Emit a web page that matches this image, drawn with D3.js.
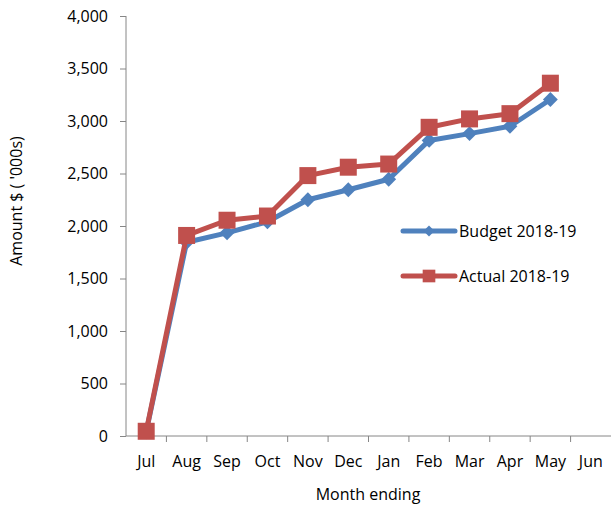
<!DOCTYPE html>
<html><head><meta charset="utf-8">
<script src="https://cdn.jsdelivr.net/npm/d3@7"></script>
<style>body{margin:0;background:#fff}svg{display:block}text{font-family:"Open Sans","Noto Sans",sans-serif;fill:#000}</style>
</head><body>
<svg id="c" width="611" height="508"></svg>
<script>
const months = ["Jul","Aug","Sep","Oct","Nov","Dec","Jan","Feb","Mar","Apr","May","Jun"];
const budget = [40,1845,1935,2040,2250,2345,2445,2815,2880,2950,3205];
const actual = [45,1910,2055,2095,2480,2560,2590,2940,3020,3070,3360];
const yTicks = [0,500,1000,1500,2000,2500,3000,3500,4000];
const seriesNames = ["Budget 2018-19","Actual 2018-19"];
const colors = ["#4f81bd","#c0504d"];

const svg = d3.select("#c");
const x = d3.scaleBand().domain(months).range([126,611]);
const y = d3.scaleLinear().domain([0,4000]).range([436,16]);
const fmt = d3.format(",");
const FS = "16px";

// y axis
const ya = svg.append("g").attr("transform","translate(126,0)")
  .call(d3.axisLeft(y).tickValues(yTicks).tickFormat(fmt).tickSize(6).tickPadding(12));
ya.selectAll("text").style("font-size",FS);
ya.selectAll("line,path").attr("stroke","#868686");
ya.select("path").attr("d","M0,16V436");

// x axis
const xa = svg.append("g").attr("transform","translate(0,436)")
  .call(d3.axisBottom(x).tickSize(0).tickPadding(20));
xa.select("path").attr("stroke","#868686").attr("d","M126,0H611");
xa.selectAll("text").style("font-size",FS).attr("dy","0.71em");
const bounds = months.map((m,i)=>x(m)).concat([611]);
xa.selectAll(".bt").data(bounds.slice(1,12)).enter().append("line")
  .attr("x1",d=>d).attr("x2",d=>d).attr("y1",0).attr("y2",6).attr("stroke","#868686");

// labels
svg.append("text").attr("x",368).attr("y",500).attr("text-anchor","middle").style("font-size",FS).text("Month ending");
svg.append("text").attr("transform","translate(22,201) rotate(-90)").attr("text-anchor","middle").style("font-size",FS).text("Amount $ ( '000s)");

const cx = m => x(m)+x.bandwidth()/2;
const line = d3.line().x((d,i)=>cx(months[i])).y(d=>y(d));
const diamond = d3.symbol().type(d3.symbolSquare).size(110);
const square = d3.symbol().type(d3.symbolSquare).size(289);

[budget,actual].forEach((data,k)=>{
  const g = svg.append("g");
  g.append("path").datum(data).attr("d",line).attr("fill","none").attr("stroke",colors[k]).attr("stroke-width",5).attr("stroke-linejoin","round");
  g.selectAll("path.m").data(data).enter().append("path").attr("class","m")
    .attr("transform",(d,i)=>`translate(${cx(months[i])},${y(d)})` + (k===0?" rotate(45)":""))
    .attr("d",k===0?diamond:square).attr("fill",colors[k]);
});

// legend
const ly = [231,276];
seriesNames.forEach((n,k)=>{
  const g = svg.append("g");
  g.append("line").attr("x1",403).attr("x2",455).attr("y1",ly[k]).attr("y2",ly[k]).attr("stroke",colors[k]).attr("stroke-width",5).attr("stroke-linecap","round");
  g.append("path").attr("transform",`translate(429,${ly[k]})`+(k===0?" rotate(45)":""))
    .attr("d",k===0?d3.symbol().type(d3.symbolSquare).size(60):d3.symbol().type(d3.symbolSquare).size(160)).attr("fill",colors[k]);
  g.append("text").attr("x",459).attr("y",ly[k]).attr("dy","0.35em").style("font-size",FS).text(n);
});
</script>
</body></html>
